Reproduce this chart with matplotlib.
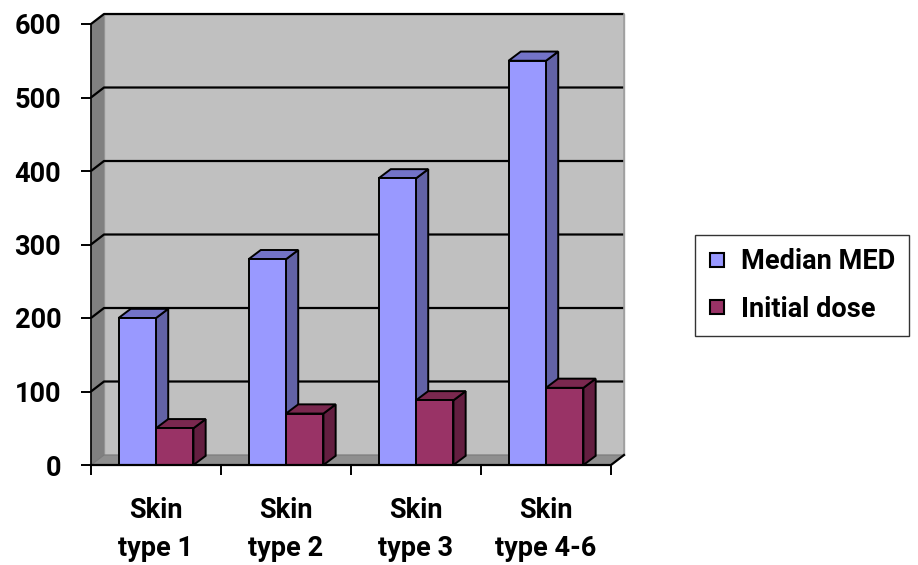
import matplotlib.pyplot as plt
from matplotlib.patches import Polygon, Rectangle
from matplotlib.lines import Line2D

categories = ["Skin\ntype 1", "Skin\ntype 2", "Skin\ntype 3", "Skin\ntype 4-6"]
median_med = [200, 280, 390, 550]
initial_dose = [50, 70, 88, 105]
series_names = ["Median MED", "Initial dose"]
yticks = [0, 100, 200, 300, 400, 500, 600]

# face colours: front, top, side
BLUE = ("#9999ff", "#7373c8", "#6262a6")
PLUM = ("#993366", "#7a284f", "#631e40")

plt.rcParams["font.family"] = ["Roboto", "DejaVu Sans"]
plt.rcParams["font.weight"] = "bold"

fig = plt.figure(figsize=(9.18, 5.65), dpi=100)
ax = fig.add_axes([91 / 918, 100 / 565, 520 / 918, 441 / 565])
ax.set_xlim(-0.5, len(categories) - 0.5)
ax.set_ylim(0, 600)

# depth of the box and of the bars, in data units
wdx, wdy = 0.10, 13.6
bdx, bdy = 0.094, 12.5
bw = 0.288
x0, x1 = -0.5, len(categories) - 0.5
ytop = yticks[-1]

# back wall, side wall and floor
ax.add_patch(Rectangle((x0 + wdx, wdy), x1 - x0, ytop, facecolor="#c0c0c0",
                       edgecolor="#a0a0a0", lw=1, zorder=1, clip_on=False))
ax.add_patch(Polygon([(x0, 0), (x0, ytop), (x0 + wdx, ytop + wdy), (x0 + wdx, wdy)],
                     facecolor="#808080", edgecolor="#808080", lw=0.5, zorder=1, clip_on=False))
ax.add_patch(Polygon([(x0, 0), (x1, 0), (x1 + wdx, wdy), (x0 + wdx, wdy)],
                     facecolor="#8f8f8f", edgecolor="#7a7a7a", lw=0.8, zorder=2, clip_on=False))

# gridlines on back wall and side wall
for v in yticks[1:]:
    ax.plot([x0, x0 + wdx, x1 + wdx], [v, v + wdy, v + wdy], color="black",
            lw=1.6, zorder=2, clip_on=False, solid_capstyle="butt")
ax.plot([x1 + wdx, x1 + wdx], [wdy, ytop + wdy], color="#a0a0a0", lw=1.2, zorder=2, clip_on=False)


def draw_bar(xl, h, cols, z):
    xr = xl + bw
    kw = dict(edgecolor="black", lw=1.4, zorder=z, clip_on=False, joinstyle="miter")
    ax.add_patch(Polygon([(xr, 0), (xr, h), (xr + bdx, h + bdy), (xr + bdx, bdy)],
                         facecolor=cols[2], **kw))
    ax.add_patch(Polygon([(xl, h), (xr, h), (xr + bdx, h + bdy), (xl + bdx, h + bdy)],
                         facecolor=cols[1], **kw))
    ax.add_patch(Rectangle((xl, 0), bw, h, facecolor=cols[0], **kw))


for i, (m, d) in enumerate(zip(median_med, initial_dose)):
    draw_bar(i - bw, m, BLUE, 3 + 2 * i)
    draw_bar(i, d, PLUM, 4 + 2 * i)

# front axis lines
ax.plot([x0, x1, x1 + wdx], [0, 0, wdy], color="black", lw=1.6, zorder=20, clip_on=False)

for s in ax.spines.values():
    s.set_visible(False)
ax.spines["left"].set_visible(True)
ax.spines["left"].set_linewidth(1.2)
ax.spines["left"].set_zorder(20)
ax.set_facecolor("none")

ax.set_yticks(yticks)
ax.set_yticklabels([str(v) for v in yticks], fontsize=19.5, fontweight="bold")
ax.tick_params(axis="y", direction="out", length=7.5, width=1.4, pad=14)

ax.set_xticks([x0 + k for k in range(len(categories) + 1)])
ax.set_xticklabels([])
ax.set_xticks(range(len(categories)), minor=True)
ax.set_xticklabels(categories, minor=True, fontsize=19.5, fontweight="bold", linespacing=1.52)
ax.tick_params(axis="x", which="major", direction="out", length=7.5, width=1.4)
ax.tick_params(axis="x", which="minor", length=0, pad=23)

handles = [Line2D([], [], marker="s", ls="none", markersize=10.5, markerfacecolor=BLUE[0],
                  markeredgecolor="black", markeredgewidth=1.5),
           Line2D([], [], marker="s", ls="none", markersize=10.5, markerfacecolor=PLUM[0],
                  markeredgecolor="black", markeredgewidth=1.5)]
leg = fig.legend(handles, series_names, loc="center left",
                 bbox_to_anchor=(695 / 918, 1 - 285.5 / 565),
                 prop={"size": 19.5, "weight": "bold"}, fancybox=False,
                 frameon=True, edgecolor="black", borderpad=0.5, labelspacing=0.75,
                 handlelength=0.65, handletextpad=0.55, borderaxespad=0)
leg.get_frame().set_linewidth(1.0)

fig.savefig("out.png", dpi=100)
